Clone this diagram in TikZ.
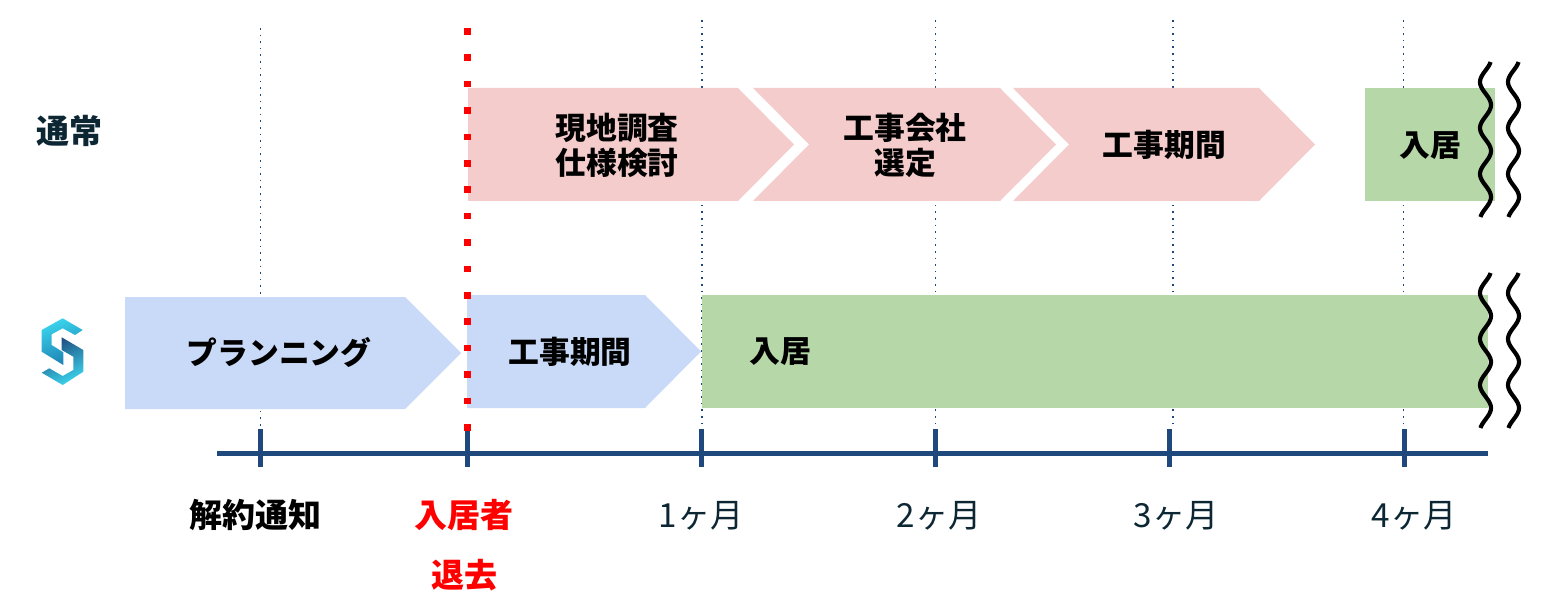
\documentclass[tikz,border=0pt]{standalone}
\usepackage{fontspec}
\setmainfont{Noto Sans CJK JP}
\definecolor{pinkbar}{HTML}{F4CCCC}
\definecolor{bluebar}{HTML}{C9DAF8}
\definecolor{greenbar}{HTML}{B6D7A8}
\definecolor{axisblue}{HTML}{1F497D}
\definecolor{inkdark}{HTML}{0C2733}
\definecolor{logocyan}{HTML}{3AD4EC}
\definecolor{logomid}{HTML}{1C7FB2}
\newcommand{\wavy}[2]{\draw[wavyline] plot[domain=#2:#2+155,samples=70,smooth] ({#1-5.5*cos((\x-#2-20)*7.826)},\x);}
\tikzset{
  barlabel/.style={font=\bfseries\fontsize{15.4}{17.5}\selectfont,align=center,inner sep=0pt,text=black},
  bottomlabel/.style={font=\bfseries\fontsize{16.5}{18}\selectfont,inner sep=0pt},
  monthlabel/.style={font=\fontsize{16.6}{18}\selectfont,inner sep=0pt,text=inkdark},
  guide/.style={axisblue,line width=0.8pt,dash pattern=on 0.8pt off 2.5pt},
  wavyline/.style={black,line width=2.1pt},
  axisline/.style={axisblue,line width=2.5pt},
  tickline/.style={axisblue,line width=2.7pt}
}
\begin{document}
\begin{tikzpicture}[x=0.5pt,y=-0.5pt]
  \useasboundingbox (0,0) rectangle (1552,604);
  % month guides
  \foreach \x/\ytop in {260.5/28,702/20,935.5/20,1173/20,1403.5/20}
    \draw[guide] (\x,\ytop) -- (\x,429);
  % normal schedule
  \fill[pinkbar] (468,88) -- (738,88) -- (794,144.5) -- (738,201) -- (468,201) -- cycle;
  \fill[pinkbar] (753,88) -- (1000,88) -- (1056,144.5) -- (1000,201) -- (753,201) -- (809,144.5) -- cycle;
  \fill[pinkbar] (1013,88) -- (1259,88) -- (1315,144.5) -- (1259,201) -- (1013,201) -- (1069,144.5) -- cycle;
  \fill[greenbar] (1365,88) rectangle (1495,201);
  % our schedule
  \fill[bluebar] (125,297) -- (405,297) -- (461,353) -- (405,409) -- (125,409) -- cycle;
  \fill[bluebar] (467,295) -- (645,295) -- (701,351.5) -- (645,408) -- (467,408) -- cycle;
  \fill[greenbar] (702,295) rectangle (1488,408);
  % logo
  \shade[top color=logocyan,bottom color=logomid,shading angle=20]
    (62.7,318.3) -- (82.7,330) -- (75,335) -- (62.7,328.3) -- (51.7,334.3) -- (51.7,345) --
    (63.3,352.3) -- (63.3,365) -- (41.7,351.7) -- (41.7,330) -- cycle;
  \shade[top color=axisblue,middle color=logomid,bottom color=logocyan,shading angle=25]
    (61.7,337.3) -- (83.3,350) -- (83.3,371.7) -- (62.7,385) -- (41.7,372.7) -- (49.3,368.3) --
    (62.7,376) -- (73.3,370) -- (73.3,356.7) -- (61.7,350) -- cycle;
  % time axis
  \coordinate (axisstart) at (217,453);
  \coordinate (axisend) at (1488,453);
  \draw[axisline] (axisstart) -- (axisend);
  \foreach \x in {260.5,467.5,701.5,935.5,1169.5,1404.5}
    \draw[tickline] (\x,429) -- (\x,467);
  % move out line
  \draw[red,line width=3.3pt,dash pattern=on 3.3pt off 9.9pt] (467.5,28) -- (467.5,431);
  % breaks
  \wavy{1485.5}{62}
  \wavy{1513.5}{62}
  \wavy{1485.5}{273}
  \wavy{1513.5}{273}
  % labels
  \node[bottomlabel,text=inkdark] (normal) at (69,131) {通常};
  \node[barlabel] (survey) at (617,145) {現地調査\\仕様検討};
  \node[barlabel] (select) at (905,145) {工事会社\\選定};
  \node[barlabel] (worka) at (1164.5,145) {工事期間};
  \node[barlabel] (livea) at (1430,146) {入居};
  \node[barlabel] (plan) at (279,353) {プランニング};
  \node[barlabel] (workb) at (570,352) {工事期間};
  \node[barlabel] (liveb) at (780,352) {入居};
  \node[bottomlabel,text=black] (notice) at (255,515) {解約通知};
  \node[bottomlabel,text=red] (tenant) at (464,515) {入居者};
  \node[bottomlabel,text=red] (leave) at (464,575) {退去};
  \node[monthlabel] (one) at (701,516) {1ヶ月};
  \node[monthlabel] (two) at (939,516) {2ヶ月};
  \node[monthlabel] (three) at (1176,516) {3ヶ月};
  \node[monthlabel] (four) at (1414,516) {4ヶ月};
\end{tikzpicture}
\end{document}
